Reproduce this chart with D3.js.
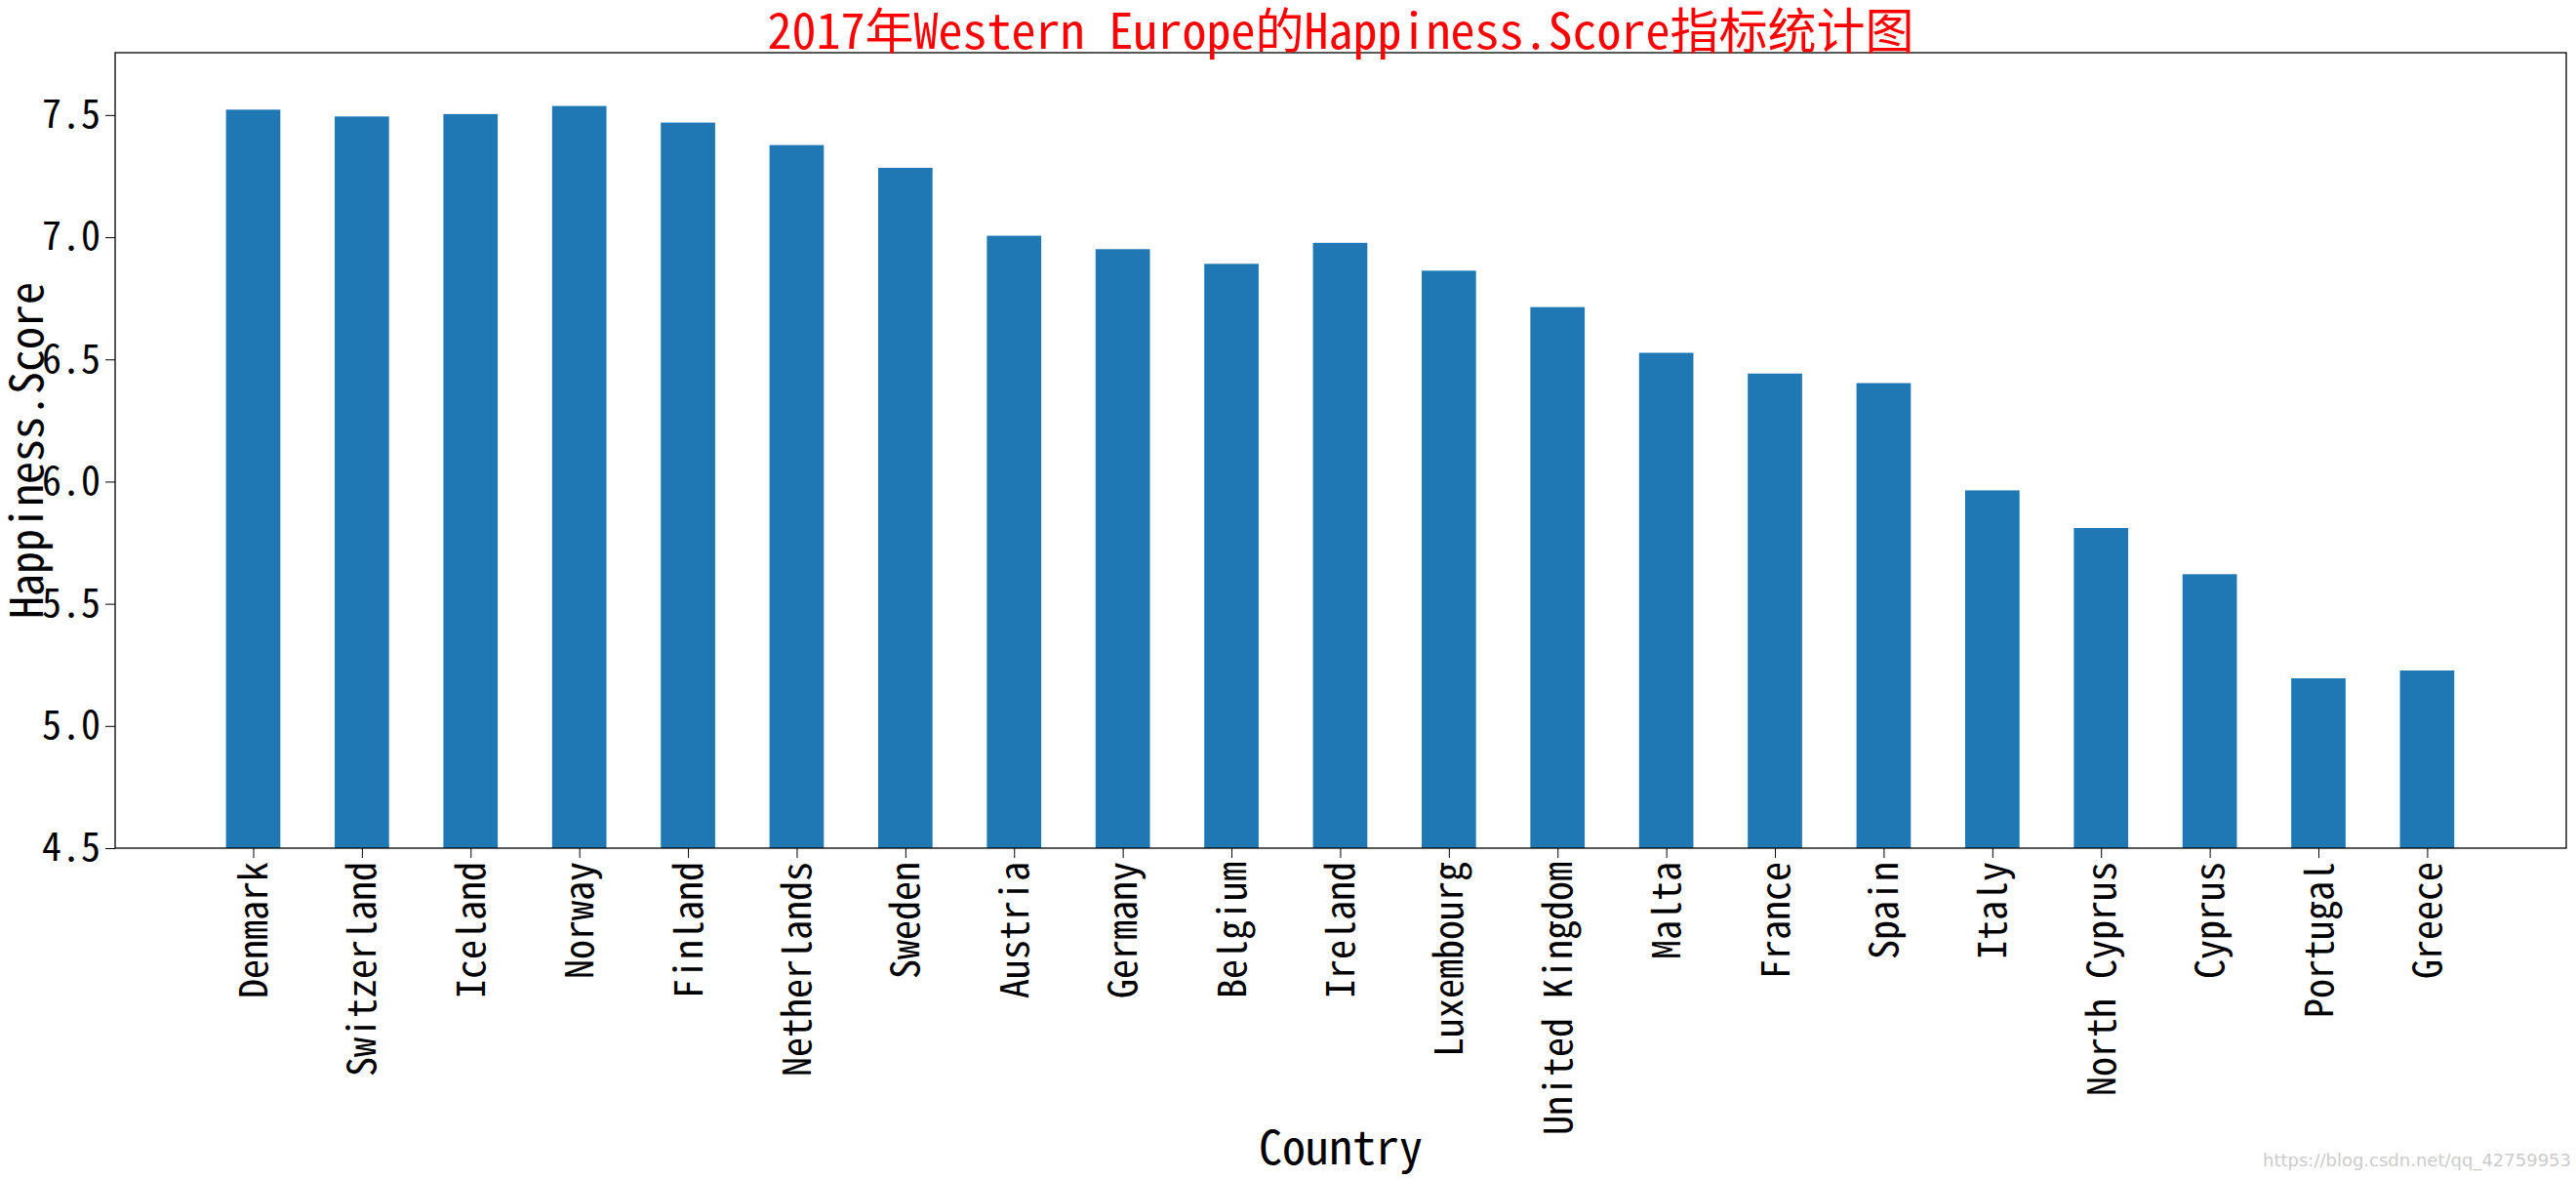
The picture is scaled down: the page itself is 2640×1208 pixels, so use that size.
<!DOCTYPE html>
<html><head><meta charset="utf-8">
<script src="https://cdn.jsdelivr.net/npm/d3@7/dist/d3.min.js"></script>
<style>body{margin:0;background:#fff}</style></head>
<body><svg id="c" width="2640" height="1208"></svg>
<script>
const countries=["Denmark","Switzerland","Iceland","Norway","Finland","Netherlands","Sweden","Austria","Germany","Belgium","Ireland","Luxembourg","United Kingdom","Malta","France","Spain","Italy","North Cyprus","Cyprus","Portugal","Greece"];
const scores=[7.522,7.494,7.504,7.537,7.469,7.377,7.284,7.006,6.951,6.891,6.977,6.863,6.714,6.527,6.442,6.403,5.964,5.810,5.621,5.195,5.227];
const yTicks=[4.5,5.0,5.5,6.0,6.5,7.0,7.5];
const FONT='"Noto Sans Mono CJK SC","Noto Sans CJK SC",monospace';
const svg=d3.select("#c");
const L=118,R=2630,T=54,B=869;
const x=d3.scaleLinear().domain([-1.27,countries.length-1+1.28]).range([L,R]);
const y=d3.scaleLinear().domain([4.5,7.755]).range([B,T]);
const bw=(x(1)-x(0))*0.5;
svg.selectAll("rect.bar").data(scores).enter().append("rect")
 .attr("x",(d,i)=>x(i)-bw/2).attr("width",bw)
 .attr("y",d=>y(d)).attr("height",d=>B-y(d)).attr("fill","#1f77b4");
svg.append("rect").attr("x",L).attr("y",T).attr("width",R-L).attr("height",B-T)
 .attr("fill","none").attr("stroke","#000").attr("stroke-width",1.3);
const ya=svg.append("g").attr("transform",`translate(${L},0)`)
 .call(d3.axisLeft(y).tickValues(yTicks).tickFormat(d3.format(".1f")).tickSizeOuter(0).tickSize(10).tickPadding(5));
ya.select(".domain").remove();
ya.selectAll("text").attr("font-family",FONT).attr("font-size",40).attr("fill","#000");
const xa=svg.append("g").attr("transform",`translate(0,${B})`)
 .call(d3.axisBottom(x).tickValues(d3.range(countries.length)).tickFormat(i=>countries[i]).tickSizeOuter(0).tickSize(10));
xa.select(".domain").remove();
xa.selectAll("text").attr("font-family",FONT).attr("font-size",40).attr("fill","#000")
 .attr("transform","rotate(-90)").attr("text-anchor","end").attr("dx","-14").attr("dy","0.35em").attr("y",0).attr("x",0);
svg.append("text").attr("x",(L+R)/2).attr("y",50).attr("text-anchor","middle")
 .attr("font-family",FONT).attr("font-size",50).attr("fill","red").text("2017年Western Europe的Happiness.Score指标统计图");
svg.append("text").attr("x",(L+R)/2).attr("y",1193).attr("text-anchor","middle")
 .attr("font-family",FONT).attr("font-size",48).text("Country");
svg.append("text").attr("transform",`translate(44,${(T+B)/2}) rotate(-90)`).attr("text-anchor","middle")
 .attr("font-family",FONT).attr("font-size",46).text("Happiness.Score");
svg.append("text").attr("x",2635).attr("y",1195).attr("text-anchor","end")
 .attr("font-family","DejaVu Sans").attr("font-size",18).attr("fill","#ccc").text("https://blog.csdn.net/qq_42759953");
</script></body></html>
